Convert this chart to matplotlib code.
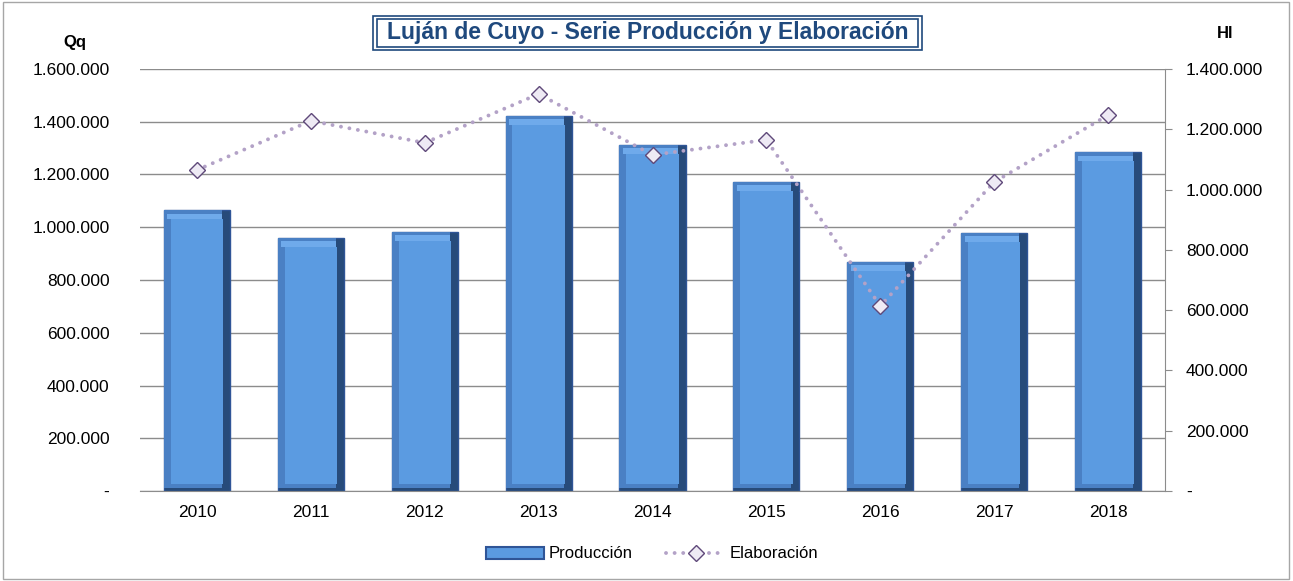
import matplotlib.pyplot as plt
from matplotlib.patches import Rectangle
from matplotlib.lines import Line2D
from matplotlib.ticker import FuncFormatter
import numpy as np

years = ['2010', '2011', '2012', '2013', '2014', '2015', '2016', '2017', '2018']
produccion = [1065000, 959000, 982000, 1422000, 1312000, 1172000, 868000, 978000, 1285000]
elaboracion = [1065000, 1228000, 1155000, 1317000, 1115000, 1165000, 614000, 1025000, 1247000]

plt.rcParams['font.family'] = ['Liberation Sans', 'DejaVu Sans']


def miles(v, pos=None):
    if abs(v) < 1:
        return '-'
    return '{:,.0f}'.format(v).replace(',', '.')


W, H = 1293, 581
fig = plt.figure(figsize=(12.93, 5.81), dpi=100)
fig.patches.append(Rectangle((0.002, 0.003), 0.995, 0.994, transform=fig.transFigure,
                             fill=False, edgecolor='#A6A6A6', lw=1))

ax = fig.add_axes([140 / W, 1 - 491 / H, 1025 / W, 422 / H])
x = np.arange(len(years))
w = 0.58

# bevelled bars: dark frame, mid body, light top, face
ax.bar(x, produccion, width=w, color='#274B7A', edgecolor='#2F5597', lw=1, zorder=2)
ax.bar(x - 0.035, np.array(produccion) - 12000, width=w - 0.07, bottom=12000,
       color='#4A80C4', lw=0, zorder=3)
ax.bar(x - 0.02, 22000, width=w - 0.1, bottom=np.array(produccion) - 35000,
       color='#6FAAEB', lw=0, zorder=3)
ax.bar(x, np.array(produccion) - 60000, width=w - 0.12, bottom=25000,
       color='#5B9BE1', lw=0, zorder=4)

ax.set_xlim(-0.5, len(years) - 0.5)
ax.set_ylim(0, 1600000)
ax.set_yticks(np.arange(0, 1600001, 200000))
ax.yaxis.set_major_formatter(FuncFormatter(miles))
ax.set_xticks(x)
ax.set_xticklabels(years)
ax.grid(axis='y', color='#8C8C8C', lw=1, zorder=0)
ax.set_axisbelow(True)
for s in ['top', 'right', 'left']:
    ax.spines[s].set_visible(False)
ax.spines['bottom'].set_color('#8C8C8C')
ax.tick_params(axis='y', length=0, labelsize=12.5, pad=22)
ax.tick_params(axis='x', length=0, labelsize=12.5, pad=10)

ax2 = ax.twinx()
ax2.plot(x, elaboracion, color='#B3A2C7', lw=2.8, linestyle=(0, (0.01, 2.2)),
         dash_capstyle='round', zorder=5)
ax2.plot(x, elaboracion, linestyle='none', marker='D', markersize=8,
         markerfacecolor='#EEEAF4', markeredgecolor='#5F497A', markeredgewidth=1, zorder=6)
ax2.set_ylim(0, 1400000)
ax2.set_yticks(np.arange(0, 1400001, 200000))
ax2.yaxis.set_major_formatter(FuncFormatter(miles))
for s in ['top', 'left', 'bottom']:
    ax2.spines[s].set_visible(False)
ax2.spines['right'].set_color('#8C8C8C')
ax2.tick_params(axis='y', length=5, color='#8C8C8C', labelsize=12.5, pad=10)

fig.text(75 / W, 1 - 42 / H, 'Qq', fontsize=12, fontweight='bold', ha='center', va='center')
fig.text(1225 / W, 1 - 33 / H, 'Hl', fontsize=12, fontweight='bold', ha='center', va='center')

# title with double frame
fig.patches.append(Rectangle((373 / W, 1 - 50 / H), 549 / W, 34 / H, transform=fig.transFigure,
                             facecolor='white', edgecolor='#1F497D', lw=1.2))
fig.patches.append(Rectangle((377 / W, 1 - 47 / H), 541 / W, 28 / H, transform=fig.transFigure,
                             fill=False, edgecolor='#1F497D', lw=1.2))
fig.text(648 / W, 1 - 33 / H, 'Luján de Cuyo - Serie Producción y Elaboración',
         fontsize=16.5, fontweight='bold', color='#1F497D', ha='center', va='center')

handles = [Rectangle((0, 0), 1, 1, facecolor='#5B9BE1', edgecolor='#2F5597', lw=1.5),
           Line2D([], [], color='#B3A2C7', lw=2.8, linestyle=(0, (0.01, 2.2)),
                  dash_capstyle='round', marker='D', markersize=8,
                  markerfacecolor='#EEEAF4', markeredgecolor='#5F497A')]
fig.legend(handles, ['Producción', 'Elaboración'], loc='center', ncol=2,
           bbox_to_anchor=(652 / W, 1 - 554 / H), frameon=False, fontsize=12,
           handlelength=3.5, columnspacing=2, handletextpad=0.3)

plt.savefig('out.png', dpi=100)
